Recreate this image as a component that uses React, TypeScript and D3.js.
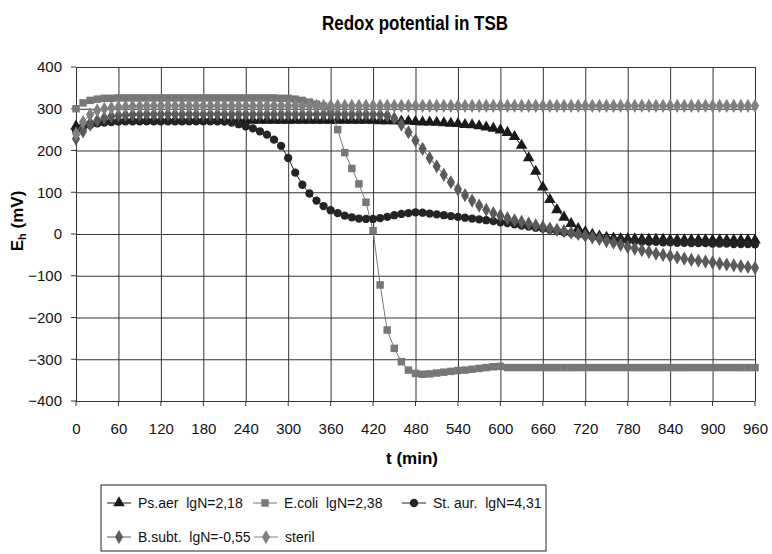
import * as d3 from "d3";
import { useEffect, useRef } from "react";

// time axis (min), every 10 min a reading
const times = d3.range(0, 961, 10);
const xTicks = d3.range(0, 961, 60);
const yTicks = [-400, -300, -200, -100, 0, 100, 200, 300, 400];

// Eh readings (mV)
const psAer = [
  258, 262, 266, 268, 270, 271, 272, 272, 272, 272,
  272, 272, 272, 272, 272, 272, 272, 272, 272, 272,
  272, 272, 272, 272, 272, 272, 272, 272, 272, 272,
  272, 272, 272, 272, 272, 272, 272, 272, 272, 272,
  272, 272, 272, 271, 271, 271, 270, 270, 269, 268,
  268, 267, 266, 265, 264, 262, 261, 259, 256, 253,
  249, 243, 233, 212, 182, 150, 112, 82, 58, 40,
  25, 13, 5, -1, -5, -8, -10, -11, -12, -12,
  -13, -13, -13, -13, -14, -14, -14, -14, -14, -14,
  -15, -15, -15, -15, -15, -15, -15,
];
const eColi = [
  300, 314, 320, 323, 325, 325, 326, 326, 326, 326,
  326, 326, 326, 326, 326, 326, 326, 326, 326, 326,
  326, 326, 326, 326, 326, 326, 326, 326, 326, 325,
  325, 323, 320, 316, 311, 306, 298, 250, 195, 157,
  120, 76, 8, -122, -230, -274, -306, -326, -334, -336,
  -335, -333, -331, -329, -327, -326, -324, -322, -320, -318,
  -317, -320, -320, -320, -320, -320, -320, -320, -320, -320,
  -320, -320, -320, -320, -320, -320, -320, -320, -320, -320,
  -320, -320, -320, -320, -320, -320, -320, -320, -320, -320,
  -320, -320, -320, -320, -320, -320, -320,
];
const stAur = [
  248, 255, 261, 265, 267, 268, 269, 270, 270, 270,
  270, 270, 270, 270, 270, 270, 270, 270, 270, 270,
  270, 269, 267, 263, 258, 253, 246, 238, 226, 211,
  182, 147, 118, 97, 80, 67, 57, 50, 44, 40,
  37, 36, 36, 38, 41, 45, 48, 50, 52, 51,
  49, 47, 45, 43, 41, 39, 37, 35, 33, 31,
  28, 26, 23, 20, 18, 15, 13, 10, 7, 4,
  2, -1, -4, -7, -10, -12, -14, -15, -16, -17,
  -18, -19, -19, -20, -20, -21, -21, -22, -22, -22,
  -23, -23, -23, -24, -24, -24, -25,
];
const bSubt = [
  228, 246, 262, 272, 278, 282, 284, 285, 286, 286,
  287, 287, 287, 287, 287, 287, 287, 287, 287, 287,
  287, 287, 287, 287, 287, 287, 287, 287, 287, 287,
  287, 287, 287, 287, 287, 287, 287, 287, 287, 287,
  287, 287, 287, 286, 284, 277, 262, 244, 224, 204,
  182, 162, 142, 124, 107, 93, 80, 68, 58, 50,
  44, 38, 33, 29, 25, 21, 17, 13, 10, 7,
  3, 0, -4, -8, -12, -17, -21, -26, -31, -35,
  -39, -43, -47, -50, -53, -56, -59, -62, -64, -66,
  -68, -71, -73, -75, -77, -79, -81,
];
const steril = [
  240, 268, 286, 296, 300, 302, 304, 305, 306, 306,
  307, 307, 307, 307, 307, 307, 307, 307, 307, 307,
  307, 307, 307, 307, 307, 307, 307, 307, 307, 307,
  307, 307, 307, 307, 307, 307, 307, 307, 307, 307,
  307, 307, 307, 307, 307, 307, 307, 307, 307, 307,
  307, 307, 307, 307, 307, 307, 307, 307, 307, 307,
  307, 307, 307, 307, 307, 307, 307, 307, 307, 307,
  307, 307, 307, 307, 307, 307, 307, 307, 307, 307,
  307, 307, 307, 307, 307, 307, 307, 307, 307, 307,
  307, 307, 307, 307, 307, 307, 307,
];

const labels = ["Ps.aer  lgN=2,18", "E.coli  lgN=2,38", "St. aur.  lgN=4,31", "B.subt.  lgN=-0,55", "steril"];

const series = [
  { values: psAer, color: "#1a1a1a", symbol: d3.symbolTriangle, size: 58 },
  { values: eColi, color: "#777777", symbol: d3.symbolSquare, size: 56 },
  { values: stAur, color: "#242424", symbol: d3.symbolCircle, size: 54 },
  { values: bSubt, color: "#5a5a5a", symbol: d3.symbolDiamond, size: 58 },
  { values: steril, color: "#808080", symbol: d3.symbolDiamond, size: 58 },
];

const W = 772;
const H = 554;
const font = "'Liberation Sans', Arial, sans-serif";

export default function App() {
  const svgRef = useRef<SVGSVGElement>(null);

  useEffect(() => {
    if (!svgRef.current) return;
    const svg = d3.select(svgRef.current);
    svg.selectAll("*").remove();

    const x = d3.scaleLinear().domain([0, 960]).range([76, 755]);
    const y = d3.scaleLinear().domain([-400, 400]).range([401, 67]);

    svg.append("rect").attr("width", W).attr("height", H).attr("fill", "#fff");

    // grid + labels
    const gx = svg.append("g")
      .attr("transform", `translate(0,${y(-400)})`)
      .call(d3.axisBottom(x).tickValues(xTicks).tickSizeInner(-(y(-400) - y(400))).tickSizeOuter(0).tickPadding(22));
    gx.select(".domain").remove();
    gx.selectAll("line").attr("stroke", "#333").attr("stroke-width", 1);
    gx.selectAll("text").attr("font-family", font).attr("font-size", 15).attr("fill", "#111");

    const gy = svg.append("g")
      .attr("transform", `translate(${x(0)},0)`)
      .call(d3.axisLeft(y).tickValues(yTicks).tickSizeInner(-(x(960) - x(0))).tickSizeOuter(0).tickPadding(14));
    gy.select(".domain").remove();
    gy.selectAll("line").attr("stroke", "#333").attr("stroke-width", 1);
    gy.selectAll("text").attr("font-family", font).attr("font-size", 15).attr("fill", "#111");

    // small outside ticks
    svg.append("g").selectAll("line").data(xTicks).join("line")
      .attr("x1", d => x(d)).attr("x2", d => x(d))
      .attr("y1", y(-400)).attr("y2", y(-400) + 5)
      .attr("stroke", "#333");
    svg.append("g").selectAll("line").data(yTicks).join("line")
      .attr("x1", x(0) - 5).attr("x2", x(0))
      .attr("y1", d => y(d)).attr("y2", d => y(d))
      .attr("stroke", "#333");

    // series
    const line = d3.line<number>().x((_, i) => x(times[i])).y(d => y(d));
    series.forEach(s => {
      svg.append("path")
        .datum(s.values)
        .attr("fill", "none")
        .attr("stroke", s.color)
        .attr("stroke-width", 1)
        .attr("d", line);
      svg.append("g").selectAll("path").data(s.values).join("path")
        .attr("transform", (d, i) => `translate(${x(times[i])},${y(d)})`)
        .attr("d", d3.symbol().type(s.symbol).size(s.size)())
        .attr("fill", s.color);
    });

    // titles
    svg.append("text")
      .attr("x", 415).attr("y", 30)
      .attr("text-anchor", "middle")
      .attr("font-family", font).attr("font-weight", "bold").attr("font-size", 20)
      .attr("textLength", 186).attr("lengthAdjust", "spacingAndGlyphs")
      .text("Redox potential in TSB");

    svg.append("text")
      .attr("x", 412).attr("y", 464)
      .attr("text-anchor", "middle")
      .attr("font-family", font).attr("font-weight", "bold").attr("font-size", 17)
      .text("t (min)");

    const yl = svg.append("text")
      .attr("transform", "translate(23,221) rotate(-90)")
      .attr("text-anchor", "middle")
      .attr("font-family", font).attr("font-weight", "bold").attr("font-size", 17);
    yl.append("tspan").text("E");
    yl.append("tspan").attr("font-size", 11).attr("dy", 3).text("h");
    yl.append("tspan").attr("dy", -3).text(" (mV)");

    // legend
    const leg = svg.append("g");
    leg.append("rect")
      .attr("x", 101).attr("y", 485).attr("width", 445).attr("height", 66)
      .attr("fill", "#fff").attr("stroke", "#222").attr("stroke-width", 1);
    const pos = [[107, 503], [253, 503], [402, 503], [107, 537], [254, 537]];
    series.forEach((s, i) => {
      const [lx, ly] = pos[i];
      const g = leg.append("g").attr("transform", `translate(${lx},${ly})`);
      g.append("line").attr("x1", 0).attr("x2", 24).attr("stroke", s.color).attr("stroke-width", 1);
      g.append("path").attr("transform", "translate(12,0)")
        .attr("d", d3.symbol().type(s.symbol).size(s.size)()).attr("fill", s.color);
      g.append("text").attr("x", 31).attr("dy", "0.35em")
        .attr("font-family", font).attr("font-size", 14).attr("fill", "#111")
        .style("white-space", "pre")
        .text(labels[i]);
    });
  }, []);

  return <svg ref={svgRef} width={W} height={H} style={{ position: "absolute", left: 0, top: 0 }} />;
}
